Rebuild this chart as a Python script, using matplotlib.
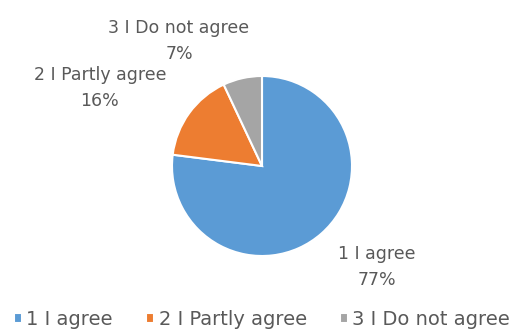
import matplotlib.pyplot as plt

categories = ["1 I agree", "2 I Partly agree", "3 I Do not agree"]
shares = [77, 16, 7]
colors = ["#5B9BD5", "#ED7D31", "#A5A5A5"]

plt.rcParams['font.family'] = ['DejaVu Sans']
txt = "#595959"

fig = plt.figure(figsize=(5.24, 3.31), dpi=100)
ax = fig.add_axes([0, 0, 1, 1])

# 1 data unit = 90 px, pie centred at (262, 166) px from top-left
s = 90.0
wedges, _ = ax.pie(shares, colors=colors, startangle=90, counterclock=False,
                   radius=1, center=(0, 0),
                   wedgeprops=dict(edgecolor="white", linewidth=1.5))
ax.set_xlim(-262 / s, (524 - 262) / s)
ax.set_ylim(-(331 - 166) / s, 166 / s)
ax.set_aspect("auto")
ax.axis("off")

def px(x, y):
    return (x - 262) / s, (166 - y) / s

label_pos = [(377, 267), (100, 88), (179, 41)]
for cat, val, (x, y) in zip(categories, shares, label_pos):
    ax.text(*px(x, y), f"{cat}\n{val}%", ha="center", va="center",
            fontsize=12.5, color=txt, linespacing=1.6)

fig.legend(wedges, categories, loc="center", bbox_to_anchor=(0.5, 0.035),
           ncol=3, frameon=False, fontsize=14, labelcolor=txt,
           handlelength=0.4, handleheight=0.4, handletextpad=0.25,
           columnspacing=1.7, borderaxespad=0, borderpad=0)

fig.savefig("out.png", dpi=100)
